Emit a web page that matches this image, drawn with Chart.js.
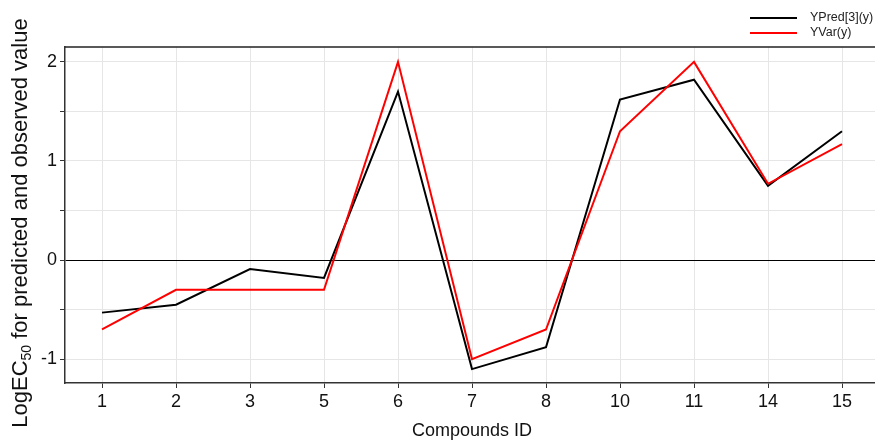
<!DOCTYPE html>
<html>
<head>
<meta charset="utf-8">
<script src="https://cdn.jsdelivr.net/npm/chart.js@4/dist/chart.umd.min.js"></script>
<style>
html,body{margin:0;padding:0;overflow:hidden;background:#fff;}
#wrap{width:879px;height:443px;position:relative;}
</style>
</head>
<body>
<div id="wrap"><canvas id="c"></canvas></div>
<script>
const categories = ['1','2','3','5','6','7','8','10','11','14','15'];
const yPred = [-0.53, -0.45, -0.09, -0.18, 1.70, -1.10, -0.88, 1.62, 1.82, 0.75, 1.30];
const yVar  = [-0.70, -0.30, -0.30, -0.30, 2.00, -1.00, -0.70, 1.30, 2.00, 0.77, 1.17];
const yTickValues = [-1, -0.5, 0, 0.5, 1, 1.5, 2];
const seriesLabels = ['YPred[3](y)', 'YVar(y)'];
const FONT = "'Liberation Sans', Arial, sans-serif";

const decorPlugin = {
  id: 'decor',
  afterDraw(chart) {
    const ctx = chart.ctx;
    const a = chart.chartArea;
    ctx.save();
    // top border
    ctx.strokeStyle = '#222';
    ctx.lineWidth = 1.5;
    ctx.beginPath();
    ctx.moveTo(a.left, a.top);
    ctx.lineTo(chart.width, a.top);
    ctx.stroke();
    // legend
    chart.data.datasets.forEach((ds, i) => {
      const y = 18 + i * 15;
      ctx.strokeStyle = ds.borderColor;
      ctx.lineWidth = 2;
      ctx.beginPath();
      ctx.moveTo(750, y);
      ctx.lineTo(797, y);
      ctx.stroke();
      ctx.fillStyle = '#222';
      ctx.font = '12.5px ' + FONT;
      ctx.textBaseline = 'middle';
      ctx.textAlign = 'left';
      ctx.fillText(ds.label, 810, y);
    });
    // y axis title with subscript
    ctx.translate(20, 223);
    ctx.rotate(-Math.PI / 2);
    const p1 = 'LogEC', p2 = '50', p3 = ' for predicted and observed value';
    const big = '22px ' + FONT, small = '14px ' + FONT;
    ctx.font = big; const w1 = ctx.measureText(p1).width; const w3 = ctx.measureText(p3).width;
    ctx.font = small; const w2 = ctx.measureText(p2).width;
    let x = -(w1 + w2 + w3) / 2;
    ctx.fillStyle = '#111';
    ctx.textBaseline = 'alphabetic';
    ctx.font = big; ctx.fillText(p1, x, 7); x += w1;
    ctx.font = small; ctx.fillText(p2, x, 11); x += w2;
    ctx.font = big; ctx.fillText(p3, x, 7);
    ctx.restore();
  }
};

new Chart(document.getElementById('c'), {
  type: 'line',
  data: {
    labels: categories,
    datasets: [
      { label: seriesLabels[0], data: yPred, borderColor: '#000000', backgroundColor: '#000000', borderWidth: 2, pointRadius: 0, tension: 0, order: 2 },
      { label: seriesLabels[1], data: yVar, borderColor: '#ff0000', backgroundColor: '#ff0000', borderWidth: 2, pointRadius: 0, tension: 0, order: 1 }
    ]
  },
  options: {
    responsive: true,
    maintainAspectRatio: false,
    animation: false,
    layout: { padding: { top: 47, left: 0, right: 0, bottom: 0 } },
    plugins: { legend: { display: false }, tooltip: { enabled: false } },
    scales: {
      x: {
        type: 'category',
        offset: true,
        grid: { offset: false, color: '#e6e6e6', lineWidth: 1, tickColor: '#333', tickLength: 5 },
        border: { color: '#333', width: 1.5 },
        ticks: { color: '#111', font: { family: FONT, size: 18 }, padding: 3, maxRotation: 0 },
        title: { display: true, text: 'Compounds ID', color: '#111', font: { family: FONT, size: 18 }, padding: { top: 0, bottom: 1 } },
        afterFit(s) { s.height = 60; }
      },
      y: {
        min: -1.24,
        max: 2.15,
        afterBuildTicks(s) { s.ticks = yTickValues.map(v => ({ value: v })); },
        grid: {
          color: c => (c.tick && c.tick.value === 0) ? '#000000' : '#e6e6e6',
          lineWidth: 1,
          tickColor: '#333',
          tickLength: 5
        },
        border: { color: '#333', width: 1.5 },
        ticks: {
          color: '#111',
          font: { family: FONT, size: 18 },
          padding: 3,
          callback: v => Number.isInteger(v) ? String(v) : ''
        },
        afterFit(s) { s.width = 65; }
      }
    }
  },
  plugins: [decorPlugin]
});
</script>
</body>
</html>
